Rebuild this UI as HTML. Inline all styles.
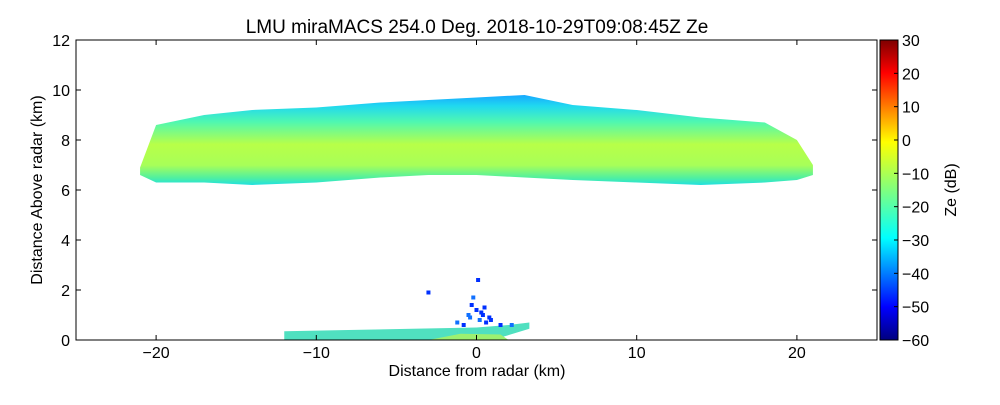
<!DOCTYPE html>
<html><head><meta charset="utf-8">
<style>
body{margin:0;background:#fff;font-family:"Liberation Sans",sans-serif}
svg text{font-family:"Liberation Sans",sans-serif;fill:#000}
</style></head>
<body>
<svg width="1000" height="400" viewBox="0 0 1000 400">
<defs>
<linearGradient id="jet" x1="0" y1="1" x2="0" y2="0">
<stop offset="0" stop-color="#00007f"/><stop offset="0.11" stop-color="#0000ff"/>
<stop offset="0.34" stop-color="#00ffff"/><stop offset="0.5" stop-color="#7fff7f"/>
<stop offset="0.66" stop-color="#ffff00"/><stop offset="0.89" stop-color="#ff0000"/>
<stop offset="1" stop-color="#7f0000"/>
</linearGradient>
</defs>
<text x="477" y="33" font-size="19" text-anchor="middle">LMU miraMACS 254.0 Deg. 2018-10-29T09:08:45Z  Ze</text>
<g id="plot"></g>
<rect x="76" y="40" width="801" height="300" fill="none" stroke="#000"/>
<g id="axes"></g>
<rect x="880" y="40" width="18" height="300" fill="url(#jet)" stroke="#000"/>
<g id="cbticks"></g>
<text x="477" y="376" font-size="16" text-anchor="middle">Distance from radar (km)</text>
<text transform="translate(42,190) rotate(-90)" font-size="16" text-anchor="middle">Distance Above radar  (km)</text>
<text transform="translate(956,190) rotate(-90)" font-size="16" text-anchor="middle">Ze (dB)</text>
</svg>
<script>
const xTicks=[-20,-10,0,10,20];
const yTicks=[0,2,4,6,8,10,12];
const cbTicks=[-60,-50,-40,-30,-20,-10,0,10,20,30];
const bandX=[-21,-20,-17,-14,-10,-6,-3,0,3,6,10,14,18,20,21];
const bandTop=[6.9,8.6,9.0,9.2,9.3,9.5,9.6,9.7,9.8,9.4,9.2,8.9,8.7,8.0,7.0];
const bandBot=[6.6,6.3,6.3,6.2,6.3,6.5,6.6,6.6,6.5,6.4,6.3,6.2,6.3,6.4,6.6];
const lowX=[-12,-8,-4,0,2,3.3];
const lowTop=[0.35,0.4,0.45,0.5,0.6,0.7];
const specX=[-0.5,-0.3,0,0.2,0.4,0.6,-0.2,0.1,0.5,-1.2,-0.8,1.5,2.2,-3,0.8,-0.4,0.3,0.9];
const specY=[1.0,1.4,1.2,0.8,1.0,0.7,1.7,2.4,1.3,0.7,0.6,0.6,0.6,1.9,0.9,0.9,1.1,0.8];
const NS="http://www.w3.org/2000/svg";
const sx=v=>476.5+v*16.02, sy=v=>340-v*25, cy=v=>340-(v+60)/90*300;
function el(t,a,p){const e=document.createElementNS(NS,t);for(const k in a)e.setAttribute(k,a[k]);p.appendChild(e);return e;}
const plot=document.getElementById('plot'),axes=document.getElementById('axes'),cb=document.getElementById('cbticks');
const defs=document.querySelector('defs');
const g=el('linearGradient',{id:'band',gradientUnits:'userSpaceOnUse',x1:0,x2:0,y1:sy(9.8),y2:sy(6.2)},defs);
[[0,'#18a8ff'],[0.12,'#20d8f0'],[0.3,'#50f8b0'],[0.55,'#b8ff48'],[0.78,'#a8ff58'],[0.92,'#50f0a0'],[1,'#20e0e0']].forEach(s=>el('stop',{offset:s[0],'stop-color':s[1]},g));
let d='M'+bandX.map((x,i)=>sx(x)+','+sy(bandTop[i])).join(' L');
for(let i=bandX.length-1;i>=0;i--)d+=' L'+sx(bandX[i])+','+sy(bandBot[i]);
const band=el('path',{d:d+'Z',fill:'url(#band)'},plot);


let d2='M'+sx(lowX[0])+','+sy(0)+' L'+lowX.map((x,i)=>sx(x)+','+sy(lowTop[i])).join(' L')+' L'+sx(lowX[lowX.length-1])+','+sy(0.45)+' L'+sx(1)+','+sy(0)+'Z';
const low=el('path',{d:d2,fill:'#50e0c0'},plot);


const low2=el('path',{d:'M'+sx(-3)+','+sy(0)+' L'+sx(-1)+','+sy(0.25)+' L'+sx(1.5)+','+sy(0.22)+' L'+sx(2)+','+sy(0)+'Z',fill:'#9cf070'},plot);


specX.forEach((x,i)=>{const r=el('rect',{x:sx(x)-2,y:sy(specY[i])-2,width:4,height:4,fill:i%3?'#0030ff':'#1070ff'},plot);

});
xTicks.forEach(v=>{el('line',{x1:sx(v),x2:sx(v),y1:340,y2:335,stroke:'#000'},axes);el('line',{x1:sx(v),x2:sx(v),y1:40,y2:45,stroke:'#000'},axes);
const t=el('text',{x:sx(v),y:358,'font-size':16,'text-anchor':'middle'},axes);t.textContent=v<0?'\u2212'+(-v):v;

});
yTicks.forEach(v=>{el('line',{x1:76,x2:81,y1:sy(v),y2:sy(v),stroke:'#000'},axes);el('line',{x1:877,x2:872,y1:sy(v),y2:sy(v),stroke:'#000'},axes);
const t=el('text',{x:70,y:sy(v)+6,'font-size':16,'text-anchor':'end'},axes);t.textContent=v;

});
cbTicks.forEach(v=>{el('line',{x1:894,x2:898,y1:cy(v),y2:cy(v),stroke:'#000'},cb);
const t=el('text',{x:902,y:cy(v)+6,'font-size':16},cb);t.textContent=v<0?'\u2212'+(-v):v;

});
</script>
</body></html>
